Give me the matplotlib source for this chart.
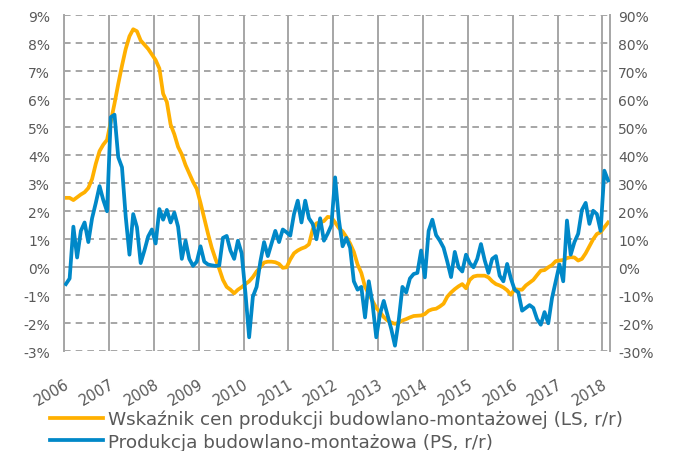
import matplotlib
matplotlib.use("Agg")
import matplotlib.pyplot as plt
import numpy as np

# monthly data, Jan 2006 - Feb 2018
years = [str(y) for y in range(2006, 2019)]

# Wskaźnik cen produkcji budowlano-montażowej, r/r (%), left axis
price_idx = [
    2.48, 2.48, 2.40, 2.50, 2.60, 2.68, 2.83, 3.15, 3.70, 4.15, 4.38, 4.55,
    5.20, 5.85, 6.55, 7.20, 7.80, 8.25, 8.50, 8.43, 8.10, 7.95, 7.80, 7.60,
    7.40, 7.10, 6.20, 5.90, 5.10, 4.75, 4.30, 4.03, 3.65, 3.35, 3.05, 2.80,
    2.30, 1.75, 1.20, 0.70, 0.30, -0.05, -0.45, -0.70, -0.80, -0.93, -0.80, -0.71,
    -0.60, -0.50, -0.35, -0.15, 0.00, 0.17, 0.20, 0.20, 0.18, 0.12, -0.02, 0.00,
    0.28, 0.50, 0.60, 0.67, 0.72, 0.82, 1.35, 1.57, 1.60, 1.65, 1.80, 1.78,
    1.60, 1.40, 1.28, 1.08, 0.85, 0.55, 0.10, -0.20, -0.70, -0.95, -1.20, -1.45,
    -1.60, -1.78, -1.90, -1.97, -2.02, -1.98, -1.90, -1.85, -1.79, -1.74, -1.73, -1.72,
    -1.67, -1.55, -1.50, -1.48, -1.40, -1.30, -1.05, -0.90, -0.78, -0.68, -0.60, -0.75,
    -0.45, -0.33, -0.30, -0.30, -0.30, -0.36, -0.50, -0.60, -0.65, -0.72, -0.82, -0.98,
    -0.78, -0.80, -0.80, -0.65, -0.55, -0.45, -0.28, -0.12, -0.10, 0.00, 0.08, 0.22,
    0.24, 0.26, 0.33, 0.36, 0.35, 0.24, 0.30, 0.50, 0.75, 1.00, 1.19, 1.25,
    1.43, 1.60,
]

# Produkcja budowlano-montażowa, r/r (%), right axis
production = [
    -6.0, -4.0, 14.5, 3.5, 13.0, 16.0, 9.0, 17.5, 23.0, 29.0, 24.0, 20.0,
    53.6, 54.5, 39.3, 35.7, 18.0, 4.5, 19.0, 14.3, 1.5, 6.0, 11.0, 13.5,
    8.5, 20.8, 17.0, 20.5, 16.0, 19.5, 14.5, 3.0, 9.5, 3.0, 0.5, 2.0,
    7.5, 2.0, 1.0, 0.7, 0.5, 0.6, 10.5, 11.2, 6.0, 3.0, 9.5, 5.0,
    -9.0, -25.0, -10.5, -7.0, 2.0, 9.0, 4.0, 8.5, 13.0, 9.0, 13.5, 12.5,
    11.3, 19.0, 23.8, 16.0, 23.8, 17.5, 15.5, 10.0, 17.5, 9.5, 12.0, 15.0,
    32.1, 17.0, 7.5, 10.5, 7.0, -5.0, -8.0, -7.0, -17.9, -5.0, -13.0, -25.0,
    -16.7, -12.0, -17.0, -22.0, -28.0, -19.0, -7.0, -9.0, -4.0, -2.4, -2.0, 6.0,
    -3.6, 13.0, 17.0, 11.5, 9.5, 7.0, 2.0, -3.5, 5.5, 0.0, -1.5, 4.5,
    1.5, 0.0, 3.0, 8.3, 2.5, -2.0, 3.0, 4.0, -3.0, -5.0, 1.2, -4.0,
    -8.0, -9.0, -15.5, -14.5, -13.5, -14.5, -18.5, -20.5, -16.0, -20.0, -11.0, -5.0,
    1.0, -5.0, 16.7, 4.5, 9.0, 12.0, 20.5, 23.0, 15.5, 20.2, 19.0, 13.0,
    34.5, 31.0,
]

ORANGE = "#FFB000"
BLUE = "#0088C8"
GRID = "#A6A6A6"
TEXT = "#595959"

x = np.arange(len(price_idx))
year_pos = np.arange(len(years)) * 12 - 0.5

fig = plt.figure(figsize=(6.74, 4.52), dpi=100)
ax = fig.add_axes([0.095, 0.2206, 0.81, 0.7434])
ax2 = ax.twinx()

ax.set_xlim(-0.5, len(price_idx) - 0.5)
ax.set_ylim(-3, 9)
ax2.set_ylim(-30, 90)

# grid: dashed horizontals, solid year verticals, solid zero line
for v in range(-3, 10):
    if v == 0:
        ax.axhline(v, color=GRID, lw=1.4, zorder=1)
    else:
        ax.axhline(v, color=GRID, lw=1.4, ls=(0, (3.4, 2.6)), zorder=1)
for xp in year_pos:
    ax.axvline(xp, color=GRID, lw=1.4, zorder=1)

for sp in ("top", "bottom"):
    ax.spines[sp].set_visible(False)
    ax2.spines[sp].set_visible(False)
for sp in ("left", "right"):
    ax.spines[sp].set_visible(False)
    ax2.spines[sp].set_color(GRID)
    ax2.spines[sp].set_linewidth(1.4)

l1, = ax.plot(x, price_idx, color=ORANGE, lw=2.7, zorder=3,
              solid_joinstyle="round",
              label="Wskaźnik cen produkcji budowlano-montażowej (LS, r/r)")
l2, = ax2.plot(x, production, color=BLUE, lw=2.7, zorder=4,
               solid_joinstyle="round",
               label="Produkcja budowlano-montażowa (PS, r/r)")

ax.set_yticks(range(-3, 10))
ax.set_yticklabels([f"{v}%" for v in range(-3, 10)])
ax2.set_yticks(range(-30, 100, 10))
ax2.set_yticklabels([f"{v}%" for v in range(-30, 100, 10)])
ax.tick_params(axis="y", length=0, pad=10, labelsize=10, labelcolor=TEXT)
ax2.tick_params(axis="y", length=0, pad=6, labelsize=10, labelcolor=TEXT)

ax.set_xticks(year_pos)
ax.set_xticklabels(years, rotation=30, ha="right", va="top",
                   rotation_mode="anchor")
ax.tick_params(axis="x", length=0, pad=18, labelsize=10.5, labelcolor=TEXT)

fig.legend(handles=[l1, l2], loc="upper left", bbox_to_anchor=(0.074, 0.091),
           frameon=False, fontsize=13.2, handlelength=2.9, handletextpad=0.25,
           borderpad=0, borderaxespad=0, labelspacing=0.24, labelcolor=TEXT)

fig.savefig("out.png", dpi=100)
